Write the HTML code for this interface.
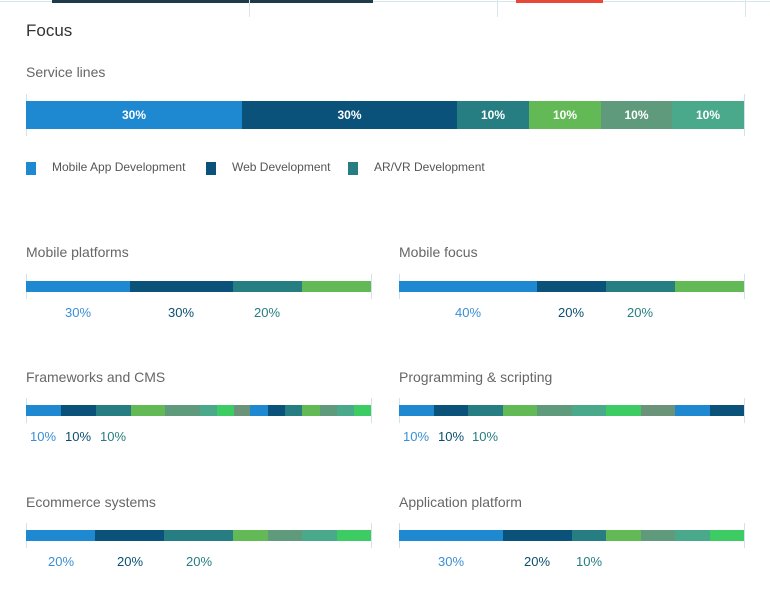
<!DOCTYPE html>
<html><head><style>
body{margin:0;width:770px;height:595px;background:#fff;position:relative;overflow:hidden;font-family:"Liberation Sans",sans-serif}
.a{position:absolute}
.t{position:absolute;color:#666;font-size:14px}
.lab{position:absolute;font-size:13px;transform:translateX(-50%)}
</style></head><body>
<div class="a" style="left:0;top:1px;width:770px;height:1px;background:#d8e6ec"></div>
<div class="a" style="left:52px;top:0;width:321px;height:3px;background:#1f3a48"></div>
<div class="a" style="left:516px;top:0;width:87px;height:3px;background:#e8473a"></div>
<div class="a" style="left:249px;top:0;width:1px;height:17px;background:#d8e6ec"></div>
<div class="a" style="left:497px;top:0;width:1px;height:17px;background:#d8e6ec"></div>
<div class="a" style="left:745px;top:0;width:1px;height:17px;background:#d8e6ec"></div>
<div class="a" style="left:26px;top:21px;font-size:17px;color:#333">Focus</div>
<div class="t" style="left:26px;top:64px">Service lines</div>
<div class="t" style="left:26px;top:244px">Mobile platforms</div>
<div class="t" style="left:399px;top:244px">Mobile focus</div>
<div class="t" style="left:26px;top:369px">Frameworks and CMS</div>
<div class="t" style="left:399px;top:369px">Programming &amp; scripting</div>
<div class="t" style="left:26px;top:494px">Ecommerce systems</div>
<div class="t" style="left:399px;top:494px">Application platform</div>
<div class="a" style="left:26px;top:162px;width:10px;height:13px;background:#1e88d0"></div>
<div class="a" style="left:52px;top:160px;font-size:12px;color:#555">Mobile App Development</div>
<div class="a" style="left:206px;top:162px;width:10px;height:13px;background:#0b527a"></div>
<div class="a" style="left:232px;top:160px;font-size:12px;color:#555">Web Development</div>
<div class="a" style="left:348px;top:162px;width:10px;height:13px;background:#267d82"></div>
<div class="a" style="left:374px;top:160px;font-size:12px;color:#555">AR/VR Development</div>
<div id="c"></div>
<script>
var C=['#1e88d0','#0b527a','#267d82','#63b955','#5e9a7b','#49a98a','#3ccc63','#6b937a'];
var h='';
function bar(xs,y,hh,cols,tk){
 h+='<div class="a" style="left:'+xs[0]+'px;top:'+(y-tk)+'px;width:1px;height:'+(hh+2*tk)+'px;background:#d0e2ea"></div>';
 h+='<div class="a" style="left:'+xs[xs.length-1]+'px;top:'+(y-tk)+'px;width:1px;height:'+(hh+2*tk)+'px;background:#d0e2ea"></div>';
 for(var i=0;i<xs.length-1;i++)h+='<div class="a" style="left:'+xs[i]+'px;top:'+y+'px;width:'+(xs[i+1]-xs[i])+'px;height:'+hh+'px;background:'+(cols?cols[i]:C[i%8])+'"></div>';
}
function labs(xs,y,t){var lc=['#3a8fd6','#0b4f70','#267d82'];for(var i=0;i<t.length;i++)h+='<div class="lab" style="left:'+xs[i]+'px;top:'+y+'px;color:'+lc[i]+'">'+t[i]+'</div>';}
bar([26,242,457,529,601,672,744],101,28,null,7);
var sx=[26,242,457,529,601,672,744];
for(var i=0;i<6;i++)h+='<div class="lab" style="left:'+((sx[i]+sx[i+1])/2)+'px;top:108px;color:#fff;font-size:12px;font-weight:bold">'+(i<2?'30%':'10%')+'</div>';
bar([26,130,233,302,371],281,11,null,7);labs([78,181,267],305,['30%','30%','20%']);
bar([399,537,606,675,744],281,11,null,7);labs([468,571,640],305,['40%','20%','20%']);
bar([26,61,96,131,165,200,217,234,250,268,285,302,320,337,354,371],405,11,null,7);labs([43,78,113],429,['10%','10%','10%']);
bar([399,434,468,503,537,572,606,641,675,710,744],405,11,null,7);labs([416,451,485],429,['10%','10%','10%']);
bar([26,95,164,233,268,302,337,371],530,11,null,7);labs([61,130,199],554,['20%','20%','20%']);
bar([399,503,572,606,641,675,710,744],530,11,null,7);labs([451,537,589],554,['30%','20%','10%']);
document.getElementById('c').innerHTML=h;
</script>
</body></html>
